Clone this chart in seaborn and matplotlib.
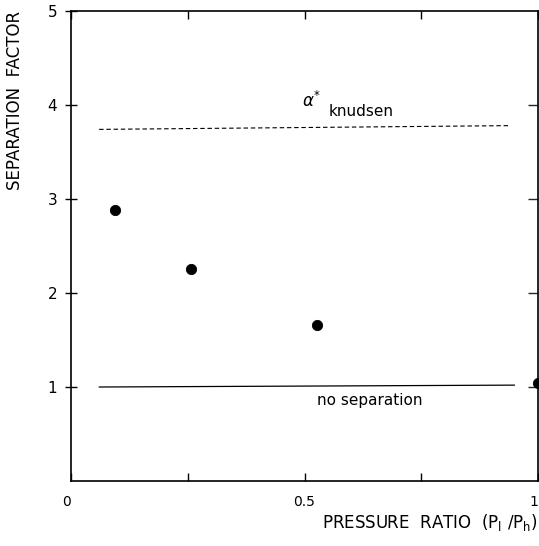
import numpy as np
import pandas as pd
import matplotlib
matplotlib.use('Agg')
import matplotlib.pyplot as plt
import seaborn as sns

# measured points
pressure_ratio = [0.093, 0.257, 0.526, 1.0]
separation_factor = [2.88, 2.25, 1.66, 1.04]

# reference lines (end points)
knudsen_x = [0.06, 0.94]
knudsen_y = [3.74, 3.78]
nosep_x = [0.06, 0.95]
nosep_y = [1.0, 1.02]

x_ticks = [0, 0.25, 0.5, 0.75, 1]
x_ticklabels = ['0', '', '0.5', '', '1']
y_ticks = [1, 2, 3, 4, 5]
y_ticklabels = ['1', '2', '3', '4', '5']

sns.set_style('white')
plt.rcParams['font.family'] = ['DejaVu Sans']
plt.rcParams['text.color'] = 'black'
plt.rcParams['axes.labelcolor'] = 'black'

fig = plt.figure(figsize=(5.39, 5.46), dpi=100)
ax = fig.add_axes([0.132, 0.119, 0.866, 0.861])

pts = pd.DataFrame({'x': pressure_ratio, 'y': separation_factor})
sns.scatterplot(data=pts, x='x', y='y', ax=ax, color='black', s=55,
                edgecolor='black', clip_on=False, zorder=5)

sns.lineplot(x=knudsen_x, y=knudsen_y, ax=ax, color='black', lw=0.8,
             linestyle=(0, (4, 2.5)))
sns.lineplot(x=nosep_x, y=nosep_y, ax=ax, color='black', lw=0.9)

ax.text(0.495, 4.04, r'$\alpha^{*}$', fontsize=12, ha='left', va='center')
ax.text(0.552, 3.93, 'knudsen', fontsize=11, ha='left', va='center')
ax.text(0.64, 0.86, 'no separation', fontsize=11, ha='center', va='center')

ax.set_xlim(0, 1)
ax.set_ylim(0, 5)
ax.set_xticks(x_ticks)
ax.set_xticklabels(x_ticklabels, fontsize=10)
ax.get_xticklabels()[-1].set_ha('right')
ax.get_xticklabels()[0].set_ha('right')
ax.set_yticks(y_ticks)
ax.set_yticklabels(y_ticklabels, fontsize=11)

ax.tick_params(axis='x', direction='in', length=6, width=1, top=True,
               bottom=True, pad=10, colors='black')
ax.tick_params(axis='y', direction='inout', length=8, width=1, left=True,
               right=False, pad=6, colors='black')

# right-hand inward ticks
ax2 = ax.secondary_yaxis('right')
ax2.set_yticks([1, 2, 3, 4])
ax2.tick_params(direction='in', length=7, width=1, labelright=False)

for sp in ax.spines.values():
    sp.set_color('black')
    sp.set_linewidth(1.2)
ax2.spines['right'].set_visible(False)

ax.set_xlabel(r'PRESSURE  RATIO  $(\mathrm{P_l\ /P_h})$', fontsize=12,
              loc='right', labelpad=2)
ax.set_ylabel('SEPARATION  FACTOR', fontsize=12, loc='top', labelpad=17)

fig.savefig('out.png', dpi=100)
